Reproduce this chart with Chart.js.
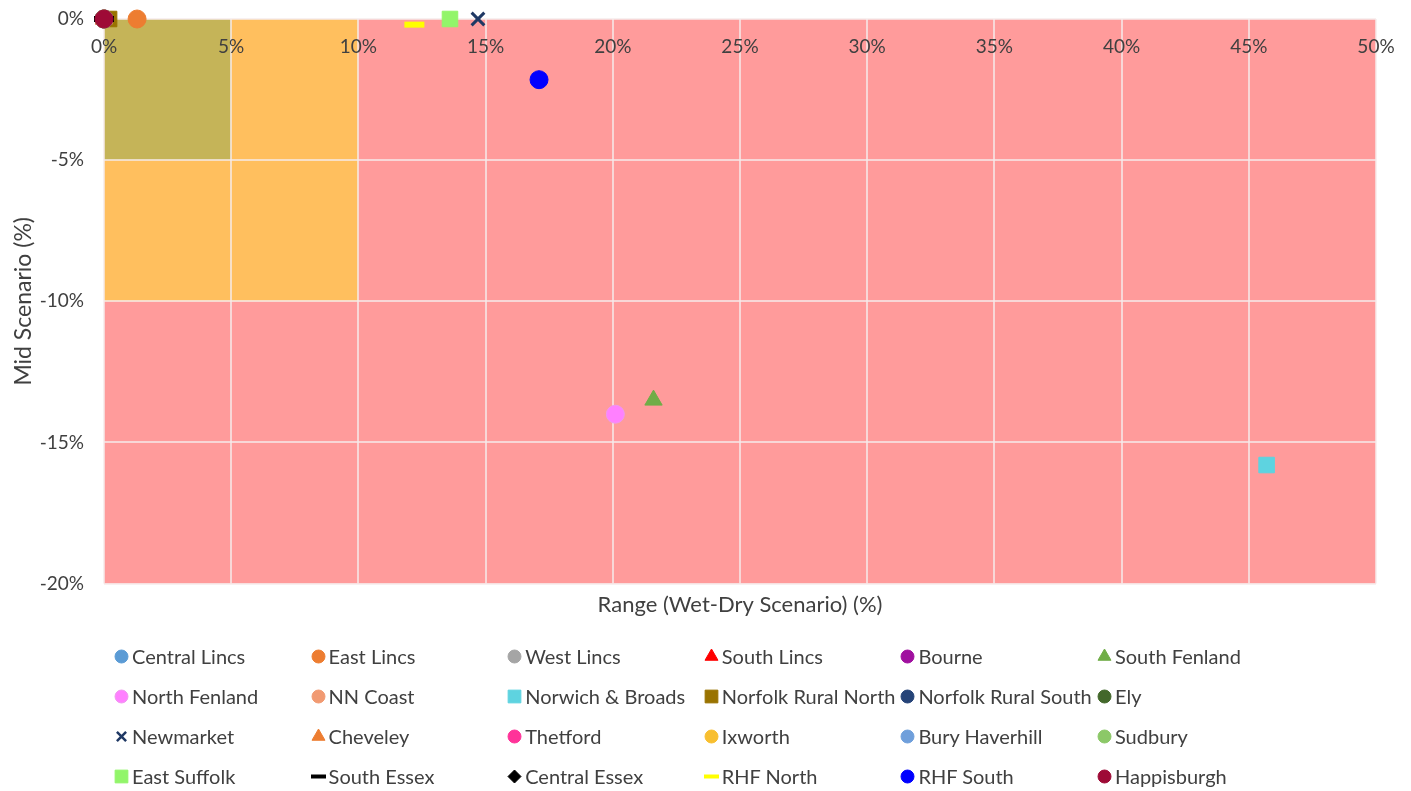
<!DOCTYPE html>
<html>
<head>
<meta charset="utf-8">
<script src="https://cdn.jsdelivr.net/npm/chart.js@4"></script>
<style>
    body { margin: 0; background: #fff; }
    #wrap { position: relative; width: 1411px; height: 791px; }
    #chart { position: absolute; left: 0; top: 0; }
    #legend {
        position: absolute; left: 113px; top: 636px;
        display: grid; grid-template-columns: repeat(6, 196.6px); grid-auto-rows: 40px;
        font-family: Lato, sans-serif; font-size: 20px; color: #404040;
    }
    .item { display: flex; align-items: center; white-space: nowrap; }
    .item canvas { margin-right: 2px; }
</style>
</head>
<body>
<div id="wrap">
    <canvas id="chart" width="1411" height="791"></canvas>
    <div id="legend"></div>
</div>
<script>
const sites = ['Central Lincs', 'East Lincs', 'West Lincs', 'South Lincs', 'Bourne', 'South Fenland',
    'North Fenland', 'NN Coast', 'Norwich & Broads', 'Norfolk Rural North', 'Norfolk Rural South', 'Ely',
    'Newmarket', 'Cheveley', 'Thetford', 'Ixworth', 'Bury Haverhill', 'Sudbury',
    'East Suffolk', 'South Essex', 'Central Essex', 'RHF North', 'RHF South', 'Happisburgh'];

// Range (Wet-Dry Scenario) %
const rangeValues = [0, 1.3, 0, 0, 0, 21.6, 20.1, 0, 45.7, 0.2, 0, 0,
    14.7, 0, 0, 0, 0, 0, 13.6, 0, 0, 12.2, 17.1, 0];
// Mid Scenario %
const midValues = [0, 0, 0, 0, 0, -13.5, -14.0, 0, -15.8, 0, 0, 0,
    0, 0, 0, 0, 0, 0, 0, 0, 0, -0.2, -2.15, 0];

const colours = ['#5B9BD5', '#ED7D31', '#A5A5A5', '#FF0000', '#A0109F', '#70AD47',
    '#FF80FF', '#F19A72', '#5ED3E0', '#997300', '#264478', '#43682B',
    '#1F3864', '#ED7D31', '#FF3399', '#F8BF30', '#6F9FDB', '#8CC868',
    '#92F56A', '#000000', '#000000', '#FFFF00', '#0000FF', '#9E0A36'];

const markers = ['circle', 'circle', 'circle', 'triangle', 'circle', 'triangle',
    'circle', 'circle', 'rect', 'rect', 'circle', 'circle',
    'crossRot', 'triangle', 'circle', 'circle', 'circle', 'circle',
    'rect', 'line', 'rectRot', 'line', 'circle', 'circle'];

const xTicks = [0, 5, 10, 15, 20, 25, 30, 35, 40, 45, 50];
const yTicks = [-20, -15, -10, -5, 0];

// background zones: x range, y range, colour (drawn in order)
const zoneRanges = [[0, 50], [0, 10], [0, 5]];
const zoneMids = [[-20, 0], [-10, 0], [-5, 0]];
const zoneColours = ['#FF9B9B', '#FFBF5E', '#C5B458'];

const textColour = '#404040';
const tickFont = { family: 'Lato', size: 19 };
const titleFont = { family: 'Lato', size: 22 };
const gridColour = 'rgba(245,235,235,0.75)';

function markerRadius(style, small) {
    const big = { circle: 9, triangle: 10, rect: 11, rectRot: 8, crossRot: 9, line: 10 };
    const little = { circle: 6.5, triangle: 7.5, rect: 9, rectRot: 6.5, crossRot: 6.5, line: 7.5 };
    return (small ? little : big)[style];
}

function markerBorder(style, small) {
    if (style === 'line') return small ? 4 : 6;
    if (style === 'crossRot') return small ? 2.5 : 3;
    return 1;
}

const zonesPlugin = {
    id: 'zones',
    beforeDraw(chart) {
        const { ctx, scales: { x, y } } = chart;
        ctx.save();
        zoneColours.forEach((c, i) => {
            const x0 = x.getPixelForValue(zoneRanges[i][0]);
            const x1 = x.getPixelForValue(zoneRanges[i][1]);
            const y0 = y.getPixelForValue(zoneMids[i][1]);
            const y1 = y.getPixelForValue(zoneMids[i][0]);
            ctx.fillStyle = c;
            ctx.fillRect(x0, y0, x1 - x0, y1 - y0);
        });
        ctx.restore();
    }
};

const datasets = sites.map((name, i) => ({
    label: name,
    data: [{ x: rangeValues[i], y: midValues[i] }],
    pointStyle: markers[i],
    pointRadius: markerRadius(markers[i]),
    pointBackgroundColor: colours[i],
    pointBorderColor: i === 6 ? '#EE99EE' : colours[i],
    pointBorderWidth: markerBorder(markers[i]),
    order: sites.length - i,
    clip: false
}));

const pct = v => v + '%';

new Chart(document.getElementById('chart'), {
    type: 'scatter',
    data: { datasets },
    options: {
        responsive: false,
        animation: false,
        layout: { padding: { top: 19, right: 35, bottom: 169, left: 0 } },
        plugins: { legend: { display: false }, tooltip: { enabled: false } },
        scales: {
            x: {
                type: 'linear', position: 'top', min: 0, max: 50,
                afterBuildTicks: s => { s.ticks = xTicks.map(v => ({ value: v })); },
                afterFit: s => { s.height = 0; },
                ticks: { mirror: true, padding: 16, callback: pct, font: tickFont, color: textColour, maxRotation: 0 },
                grid: { color: gridColour, lineWidth: 2, drawTicks: false },
                border: { display: false }
            },
            x2: {
                type: 'linear', position: 'bottom', min: 0, max: 50,
                ticks: { display: false },
                grid: { display: false },
                border: { display: false },
                title: { display: true, text: 'Range (Wet-Dry Scenario) (%)', font: titleFont, color: textColour, padding: { top: 0, bottom: 4 } }
            },
            y: {
                min: -20, max: 0,
                afterBuildTicks: s => { s.ticks = yTicks.map(v => ({ value: v })); },
                afterFit: s => { s.width = 104; s.paddingTop = 0; s.paddingBottom = 0; },
                ticks: { padding: 20, callback: pct, font: tickFont, color: textColour },
                grid: { color: gridColour, lineWidth: 2, drawTicks: false },
                border: { display: false },
                title: { display: true, text: 'Mid Scenario (%)', font: { family: 'Lato', size: 23 }, color: textColour, padding: { top: 10, bottom: 0 } }
            }
        }
    },
    plugins: [zonesPlugin]
});

// legend grid
const legend = document.getElementById('legend');
sites.forEach((name, i) => {
    const item = document.createElement('div');
    item.className = 'item';
    const c = document.createElement('canvas');
    c.width = 17; c.height = 17;
    const g = c.getContext('2d');
    g.fillStyle = colours[i];
    g.strokeStyle = i === 6 ? '#EE99EE' : colours[i];
    g.lineWidth = markerBorder(markers[i], true);
    Chart.helpers.drawPoint(g, {
        pointStyle: markers[i],
        radius: markerRadius(markers[i], true),
        borderWidth: markerBorder(markers[i], true),
        rotation: 0
    }, 8.5, 8.5);
    const span = document.createElement('span');
    span.textContent = name;
    item.appendChild(c);
    item.appendChild(span);
    legend.appendChild(item);
});
</script>
</body>
</html>
